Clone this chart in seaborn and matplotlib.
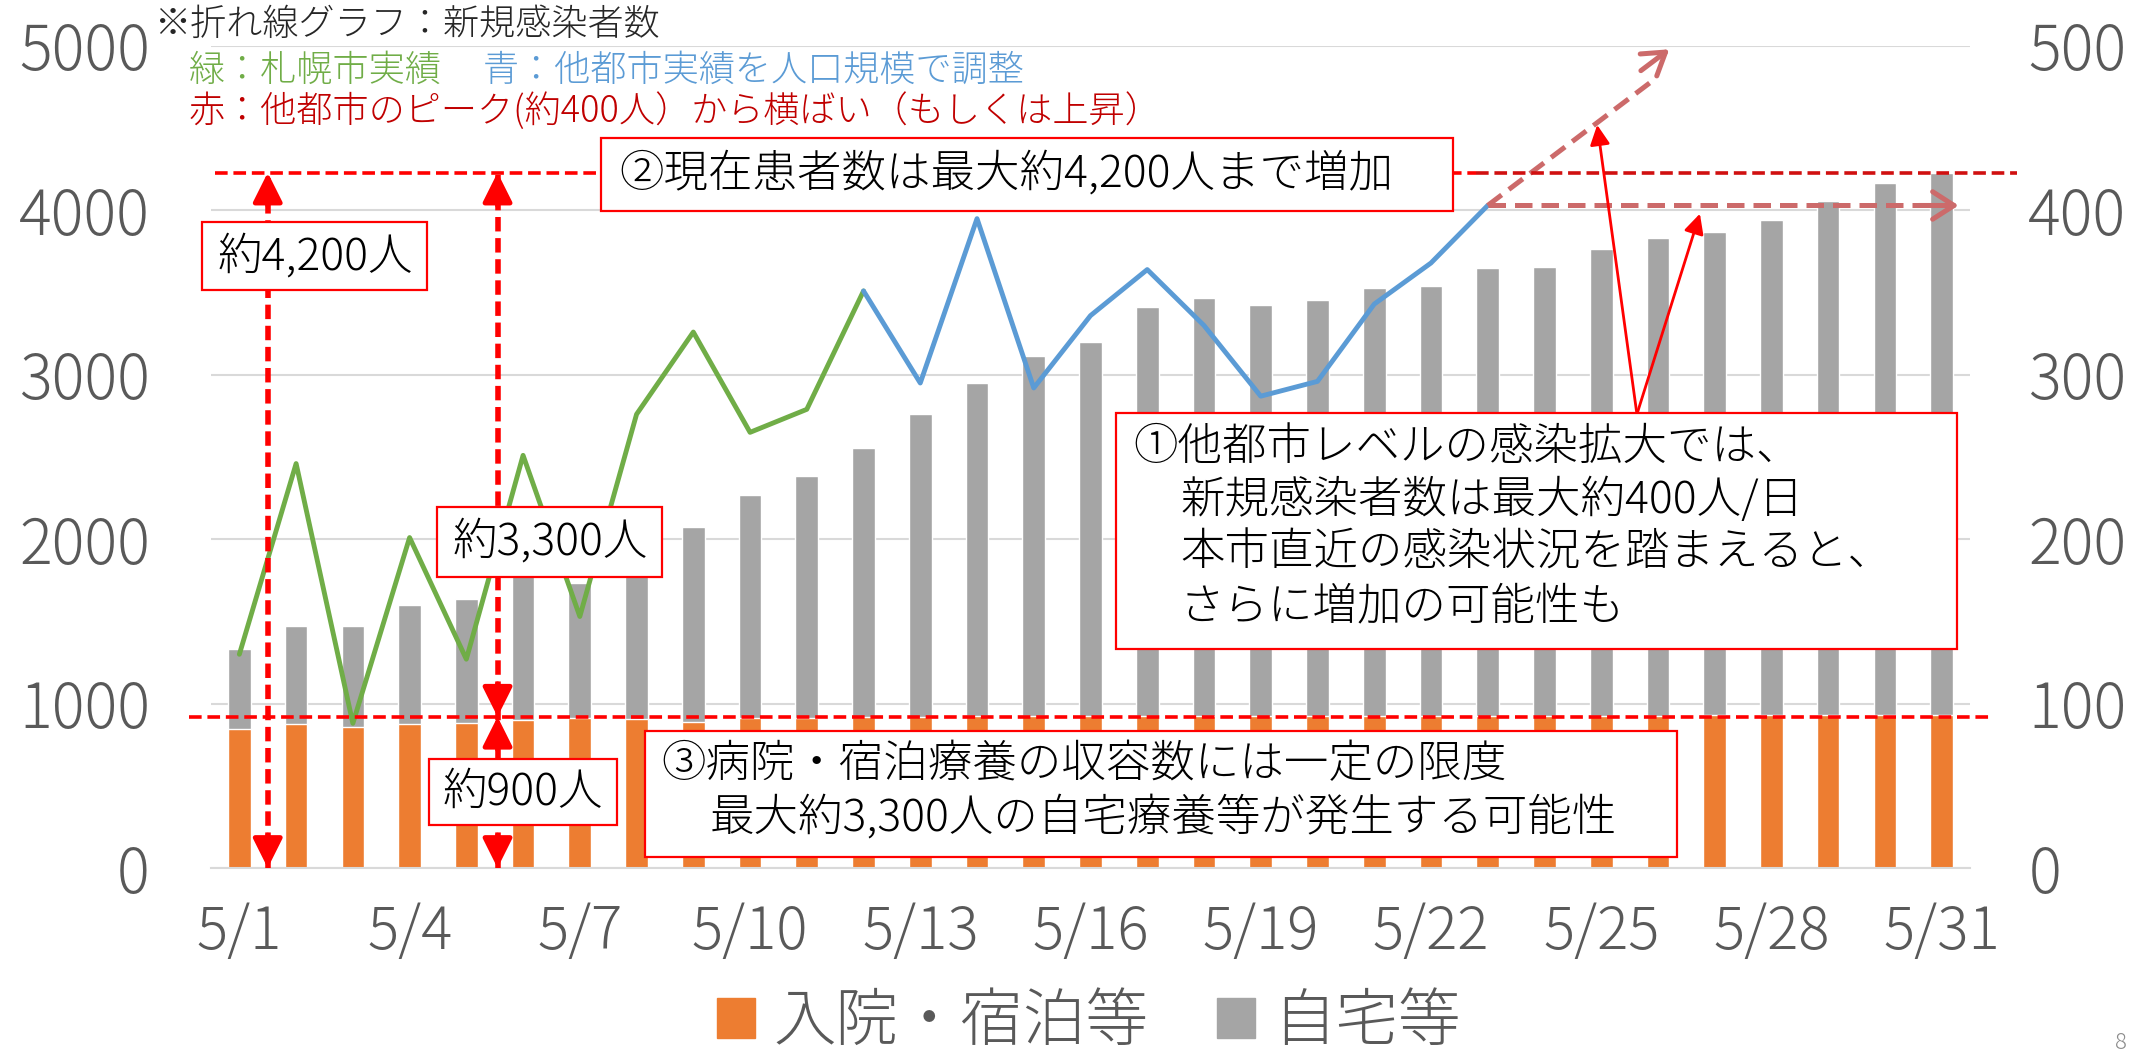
import seaborn as sns
import matplotlib.pyplot as plt
from matplotlib.patches import Rectangle, Patch

sns.set_theme(style='white')
plt.rcParams['font.family'] = ['Noto Sans CJK JP', 'DejaVu Sans']
plt.rcParams['font.weight'] = 'light'

# data
dates = [f'5/{d}' for d in range(1, 32)]
hospital = [843, 873, 857, 876, 882, 898, 914, 905, 890, 914, 914, 918, 920, 922, 922, 925,
            925, 925, 925, 925, 925, 925, 925, 925, 925, 925, 928, 928, 928, 928, 928]
total = [1331, 1475, 1470, 1597, 1635, 1785, 1735, 1950, 2077, 2267, 2387, 2552, 2759, 2952, 3115, 3202,
         3410, 3465, 3427, 3458, 3525, 3542, 3648, 3658, 3768, 3835, 3870, 3942, 4060, 4165, 4228]
# new infections (right axis)
sapporo_days = list(range(0, 12))
sapporo_new = [130, 246, 88, 201, 127, 251, 153, 276, 326, 265, 279, 351]
others_days = list(range(11, 23))
others_new = [351, 295, 395, 292, 336, 364, 330, 287, 296, 343, 368, 403]

peak_patients = 4230      # 約4,200人
capacity = 920            # 約900人
peak_new = 403            # 約400人/日

ORANGE = '#ED7D31'
GRAY = '#A5A5A5'
GREEN = '#70AD47'
BLUE = '#5B9BD5'
RED = '#FF0000'
PROJ = '#CC6A6A'
TXT = '#595959'

W, H = 2139, 1059
fig = plt.figure(figsize=(W / 100, H / 100), dpi=100)
ax = fig.add_axes([211 / W, 1 - 868 / H, (1970 - 211) / W, (868 - 46) / H])

sns.barplot(x=dates, y=total, color=GRAY, width=0.4, saturation=1, ax=ax)
sns.barplot(x=dates, y=hospital, color=ORANGE, width=0.4, saturation=1, ax=ax)

ax.set_xlim(-0.5, 30.5)
ax.set_ylim(0, 5000)
ax.set_yticks(range(0, 5001, 1000))
ax.yaxis.grid(True, color='#D9D9D9', lw=1.5)
ax.set_axisbelow(True)
for s in ['top', 'right', 'left']:
    ax.spines[s].set_visible(False)
ax.spines['bottom'].set_color('#D9D9D9')
ax.spines['bottom'].set_linewidth(1.5)
ax.set_xticks(range(0, 31, 3), labels=dates[::3])
ax.set_xticks([i - 0.5 for i in range(0, 31, 3)], minor=True)
ax.tick_params(axis='x', which='major', length=0, labelsize=42, labelcolor=TXT, pad=25)
ax.tick_params(axis='x', which='minor', length=9, width=1.5, color='#D9D9D9', direction='out')
ax.tick_params(axis='y', length=0, labelsize=44, labelcolor=TXT, pad=44)
ax.set_xlabel('')
ax.set_ylabel('')

ax2 = ax.twinx()
sns.lineplot(x=sapporo_days, y=sapporo_new, color=GREEN, lw=3.5, ax=ax2)
sns.lineplot(x=others_days, y=others_new, color=BLUE, lw=3.5, ax=ax2)
ax2.set_ylim(0, 500)
ax2.set_yticks(range(0, 501, 100))
ax2.tick_params(axis='y', length=0, labelsize=44, labelcolor=TXT, pad=42)
for s in ax2.spines.values():
    s.set_visible(False)
ax2.set_xlim(-0.5, 30.5)

L = ax.transData  # left-axis (patients) coordinates

# red dashed reference lines
ax2.plot([-0.43, 21.8], [peak_patients] * 2, color=RED, lw=2.6, ls=(0, (3.5, 1.6)),
         transform=L, clip_on=False, zorder=5)
ax2.plot([21.8, 31.33], [peak_patients] * 2, color='#D01010', lw=2.6, ls=(0, (3.5, 1.6)),
         transform=L, clip_on=False, zorder=5)
ax2.plot([-0.89, 30.87], [capacity] * 2, color=RED, lw=2.6, ls=(0, (3.5, 1.6)),
         transform=L, clip_on=False, zorder=5)


def head(x, tip, back):
    ax2.annotate('', xy=(x, tip), xytext=(x, back), xycoords=L, textcoords=L,
                 arrowprops=dict(arrowstyle='-|>,head_length=0.5,head_width=0.25', color=RED,
                                 lw=3.5, mutation_scale=36, shrinkA=0, shrinkB=0), zorder=6)


def vdash(x, y0, y1):
    ax2.plot([x, x], [y0, y1], color=RED, lw=4, ls=(0, (2.6, 1.2)), transform=L, zorder=5)
    head(x, y1, y1 - 200)
    head(x, y0, y0 + 200)


vdash(0.5, 0, peak_patients)
vdash(4.55, capacity, peak_patients)
vdash(4.55, 0, capacity)

# projections from the last point
x_last = others_days[-1]
ax2.plot([x_last, 30.0], [peak_new, peak_new], color=PROJ, lw=3.6, ls=(0, (3.5, 1.8)), zorder=4)
ax2.annotate('', xy=(30.3, peak_new), xytext=(29.6, peak_new),
             arrowprops=dict(arrowstyle='->,head_length=0.7,head_width=0.45', color=PROJ, lw=3.6,
                             mutation_scale=22, shrinkA=0, shrinkB=0), zorder=4)
ax2.plot([x_last, 24.95], [peak_new, 480], color=PROJ, lw=3.6, ls=(0, (3.5, 1.8)), zorder=4)
ax2.annotate('', xy=(25.2, 498), xytext=(24.7, 485),
             arrowprops=dict(arrowstyle='->,head_length=0.7,head_width=0.45', color=PROJ, lw=3.6,
                             mutation_scale=22, shrinkA=0, shrinkB=0), zorder=4)

# solid arrows from box 1
for tip in [(23.93, 452), (25.74, 398)]:
    ax2.annotate('', xy=tip, xytext=(24.63, 276),
                 arrowprops=dict(arrowstyle='-|>', color=RED, lw=2, mutation_scale=30,
                                 shrinkA=0, shrinkB=0), zorder=6)


# annotation boxes in pixel coordinates
def box(x0, y0, x1, y1):
    fig.patches.append(Rectangle((x0 / W, 1 - y1 / H), (x1 - x0) / W, (y1 - y0) / H,
                                 transform=fig.transFigure, fc='white', ec=RED, lw=1.6, zorder=10))


def txt(x, y, s, size=32, color='black', ha='left'):
    fig.text(x / W, 1 - y / H, s, fontsize=size, color=color, ha=ha, va='center', zorder=11)


box(601, 138, 1453, 211)
txt(619, 174, '②現在患者数は最大約4,200人まで増加')
box(202, 222, 427, 290)
txt(315, 257, '約4,200人', ha='center')
box(437, 507, 662, 577)
txt(550, 542, '約3,300人', ha='center')
box(429, 759, 617, 825)
txt(523, 792, '約900人', ha='center')
box(1116, 413, 1957, 649)
txt(1133, 447, '①他都市レベルの感染拡大では、')
txt(1180, 500, '新規感染者数は最大約400人/日')
txt(1180, 553, '本市直近の感染状況を踏まえると、')
txt(1180, 607, 'さらに増加の可能性も')
box(645, 731, 1677, 857)
txt(661, 765, '③病院・宿泊療養の収容数には一定の限度')
txt(710, 818, '最大約3,300人の自宅療養等が発生する可能性')

# notes at the top
txt(154, 25, '※折れ線グラフ：新規感染者数', size=26, color='#262626')
txt(189, 71, '緑：札幌市実績', size=26, color=GREEN)
txt(483, 71, '青：他都市実績を人口規模で調整', size=26, color=BLUE)
txt(189, 112, '赤：他都市のピーク(約400人）から横ばい（もしくは上昇）', size=26, color='#C00000')

fig.legend(handles=[Patch(color=ORANGE), Patch(color=GRAY)], labels=['入院・宿泊等', '自宅等'],
           ncol=2, loc='center', bbox_to_anchor=(1089 / W, 1 - 1023 / H), frameon=False,
           fontsize=45, labelcolor=TXT, handlelength=0.6, handleheight=0.6,
           handletextpad=0.3, columnspacing=1.1)
fig.text(2121 / W, 1 - 1043 / H, '8', fontsize=16, color='#8C8C8C', ha='center', va='center')

fig.savefig('out.png', dpi=100)
